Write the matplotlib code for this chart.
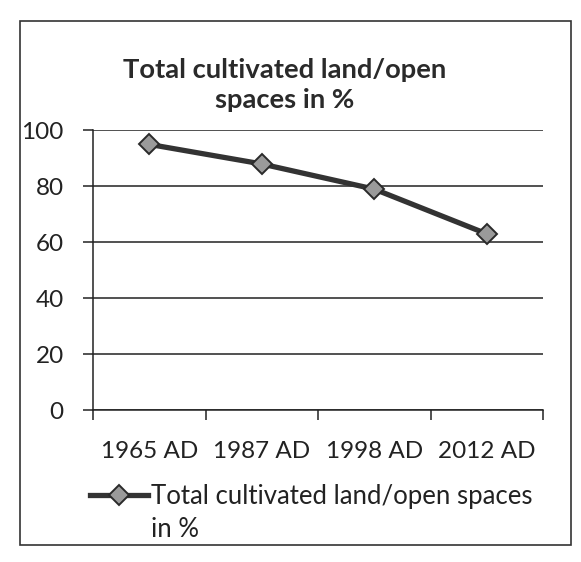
import matplotlib
matplotlib.use("Agg")
import matplotlib.pyplot as plt
from matplotlib.lines import Line2D
from matplotlib.patches import Rectangle

years = ["1965 AD", "1987 AD", "1998 AD", "2012 AD"]
land_pct = [95, 88, 79, 63]
series_name = "Total cultivated land/open spaces"
y_ticks = [0, 20, 40, 60, 80, 100]

plt.rcParams['font.family'] = ['Lato', 'DejaVu Sans']

fig = plt.figure(figsize=(5.81, 5.62), dpi=100)
ax = fig.add_axes([0.160, 0.270, 0.775, 0.498])

x = list(range(len(years)))
line, = ax.plot(x, land_pct, color='#333333', lw=3.8, marker='D', markersize=10.5,
                markerfacecolor='#9a9a9a', markeredgecolor='#2a2a2a', markeredgewidth=1.4,
                zorder=3)

ax.set_xlim(-0.5, len(years) - 0.5)
ax.set_ylim(0, 100)
ax.set_yticks(y_ticks)
ax.set_yticklabels([str(v) for v in y_ticks])
ax.yaxis.grid(True, color='#222222', lw=1.1)
ax.set_axisbelow(True)

# category ticks sit between the categories, labels at the centres
ax.set_xticks([i - 0.5 for i in range(len(years) + 1)])
ax.set_xticklabels([])
ax.set_xticks(x, minor=True)
ax.set_xticklabels(years, minor=True)
ax.tick_params(axis='x', which='major', length=7, width=1.1, color='#222222', direction='out')
ax.tick_params(axis='x', which='minor', length=0, pad=22, labelsize=17.5, labelcolor='#222222')
ax.tick_params(axis='y', length=7, width=1.1, color='#222222', pad=14,
               labelsize=17.5, labelcolor='#222222')

for side in ['top', 'right']:
    ax.spines[side].set_visible(False)
for side in ['left', 'bottom']:
    ax.spines[side].set_color('#222222')
    ax.spines[side].set_linewidth(1.1)

fig.text(0.49, 1 - 85 / 562, "Total cultivated land/open\nspaces in %", ha='center', va='center',
         fontsize=19.7, fontweight='bold', color='#2a2a2a', linespacing=1.25)

blank = Line2D([], [], linestyle='none')
fig.legend([line, blank], [series_name, "in %"], loc='upper left',
           bbox_to_anchor=(80 / 581, 1 - 474 / 562), frameon=False, fontsize=18.5,
           labelcolor='#222222', handlelength=2.25, handletextpad=0.1,
           labelspacing=0.3, borderaxespad=0)

# outer chart border
fig.patches.append(Rectangle((0.034, 0.030), 0.949, 0.933, transform=fig.transFigure,
                             fill=False, edgecolor='#333333', lw=1.2))

fig.savefig("out.png", dpi=100)
